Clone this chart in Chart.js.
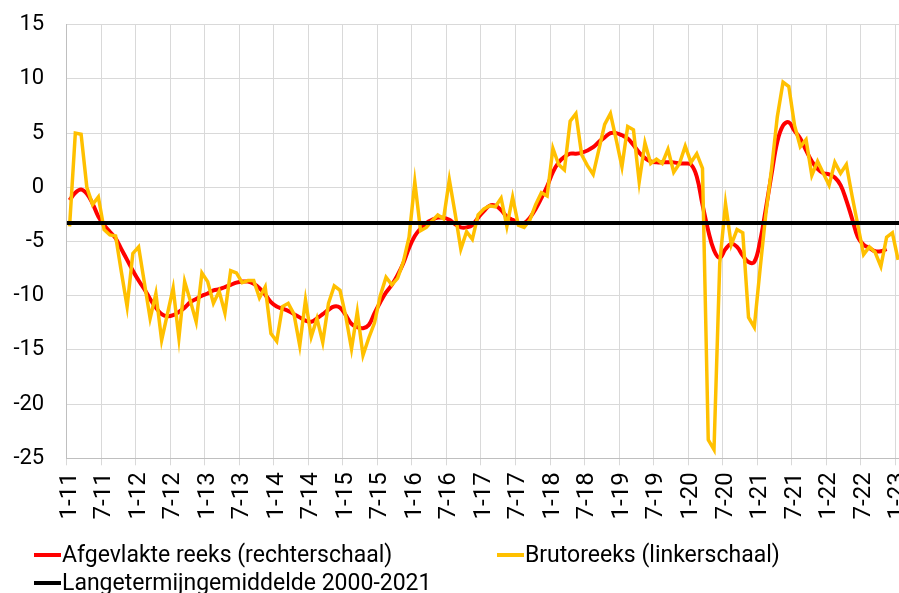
<!DOCTYPE html>
<html><head><meta charset="utf-8">
<script src="https://cdn.jsdelivr.net/npm/chart.js@4"></script>
<style>
html,body{margin:0;padding:0;overflow:hidden;background:#fff;width:899px;height:593px}
#wrap{position:absolute;left:0;top:0;width:901px;height:593px}
.leg{position:absolute;font-family:Roboto,sans-serif;font-size:23px;color:#000;display:flex;align-items:center;white-space:nowrap;line-height:1}
.sw{display:inline-block;width:27px;height:4px;margin-right:1px}
</style></head><body>
<div id="wrap"><canvas id="c" width="901" height="593"></canvas></div>
<div class="leg" style="left:34px;top:543px"><span class="sw" style="background:#ff0000"></span>Afgevlakte reeks (rechterschaal)</div>
<div class="leg" style="left:497px;top:543px"><span class="sw" style="background:#ffc000"></span>Brutoreeks (linkerschaal)</div>
<div class="leg" style="left:34px;top:571px"><span class="sw" style="background:#000000"></span>Langetermijngemiddelde 2000-2021</div>
<script>
// Months Jan 2011 .. Jan 2023
const categories = [
"1-11","2-11","3-11","4-11","5-11","6-11","7-11","8-11","9-11","10-11","11-11","12-11",
"1-12","2-12","3-12","4-12","5-12","6-12","7-12","8-12","9-12","10-12","11-12","12-12",
"1-13","2-13","3-13","4-13","5-13","6-13","7-13","8-13","9-13","10-13","11-13","12-13",
"1-14","2-14","3-14","4-14","5-14","6-14","7-14","8-14","9-14","10-14","11-14","12-14",
"1-15","2-15","3-15","4-15","5-15","6-15","7-15","8-15","9-15","10-15","11-15","12-15",
"1-16","2-16","3-16","4-16","5-16","6-16","7-16","8-16","9-16","10-16","11-16","12-16",
"1-17","2-17","3-17","4-17","5-17","6-17","7-17","8-17","9-17","10-17","11-17","12-17",
"1-18","2-18","3-18","4-18","5-18","6-18","7-18","8-18","9-18","10-18","11-18","12-18",
"1-19","2-19","3-19","4-19","5-19","6-19","7-19","8-19","9-19","10-19","11-19","12-19",
"1-20","2-20","3-20","4-20","5-20","6-20","7-20","8-20","9-20","10-20","11-20","12-20",
"1-21","2-21","3-21","4-21","5-21","6-21","7-21","8-21","9-21","10-21","11-21","12-21",
"1-22","2-22","3-22","4-22","5-22","6-22","7-22","8-22","9-22","10-22","11-22","12-22",
"1-23"];

// Tick labels shown on the x axis (every 6 months)
const shownTickLabels = ["1-11","7-11","1-12","7-12","1-13","7-13","1-14","7-14","1-15","7-15","1-16","7-16","1-17","7-17","1-18","7-18","1-19","7-19","1-20","7-20","1-21","7-21","1-22","7-22","1-23"];

// Afgevlakte reeks (smoothed series), Jan 2011 .. Nov 2022
const smoothed = [
-1.2,-0.5,-0.2,-0.6,-1.5,-2.7,-3.5,-4.1,-4.7,-5.7,-6.7,-7.7,
-8.6,-9.4,-10.3,-11.1,-11.7,-11.9,-11.8,-11.5,-11.1,-10.6,-10.3,-10.0,
-9.8,-9.5,-9.4,-9.2,-9.0,-8.8,-8.7,-8.7,-8.9,-9.3,-9.9,-10.6,
-11.0,-11.2,-11.4,-11.7,-12.0,-12.3,-12.4,-12.1,-11.7,-11.3,-11.0,-11.1,
-11.8,-12.6,-12.9,-13.0,-12.7,-11.6,-10.6,-9.7,-9.0,-8.1,-7.0,-5.6,
-4.5,-3.8,-3.3,-3.0,-2.8,-2.8,-3.0,-3.4,-3.7,-3.7,-3.5,-2.8,
-2.2,-1.7,-1.7,-2.1,-2.7,-3.0,-3.3,-3.3,-2.8,-2.0,-1.0,0.1,
1.4,2.3,2.8,3.1,3.1,3.2,3.4,3.7,4.2,4.6,5.0,5.0,
4.8,4.5,3.9,3.2,2.7,2.4,2.3,2.3,2.3,2.3,2.2,2.2,
2.1,1.0,-1.6,-4.0,-5.8,-6.5,-5.7,-5.2,-5.5,-6.3,-6.9,-6.9,
-5.0,-2.0,1.2,4.2,5.7,6.0,5.2,4.5,3.4,2.4,1.7,1.3,
1.2,0.9,0.2,-1.2,-2.9,-4.6,-5.3,-5.6,-5.9,-5.9,-5.7];

// Brutoreeks (raw series), Jan 2011 .. Jan 2023
const raw = [
-3.6,5.0,4.9,0.0,-1.6,-0.9,-3.9,-4.4,-4.5,-7.8,-11.0,-6.1,
-5.5,-8.8,-12.1,-9.8,-14.1,-11.7,-9.3,-13.9,-8.7,-10.5,-12.4,-7.9,
-8.7,-10.7,-9.6,-11.6,-7.7,-7.9,-8.8,-8.6,-8.6,-10.2,-9.2,-13.5,
-14.2,-11.0,-10.7,-11.7,-14.6,-10.4,-13.8,-12.1,-14.3,-10.7,-9.1,-9.5,
-11.9,-14.9,-11.5,-15.5,-13.9,-12.5,-10.0,-8.3,-9.0,-8.4,-6.9,-4.6,
0.5,-4.0,-3.7,-3.1,-2.55,-2.9,0.7,-2.4,-5.7,-4.1,-4.8,-2.55,
-2.0,-1.7,-1.8,-1.0,-3.6,-0.9,-3.5,-3.7,-3.0,-1.6,-0.5,-0.8,
3.6,2.1,1.6,6.1,6.8,3.0,2.0,1.2,3.5,5.8,6.8,4.4,
1.9,5.6,5.3,0.5,4.1,2.2,2.6,2.2,3.5,1.4,2.2,3.8,
2.3,3.1,1.75,-23.3,-24.2,-7.0,-1.5,-5.3,-3.9,-4.2,-12.0,-12.9,
-7.6,-2.5,1.7,6.5,9.7,9.3,5.7,3.75,4.4,1.1,2.4,1.3,
0.2,2.3,1.3,2.1,-0.8,-3.5,-6.2,-5.5,-6.0,-7.3,-4.6,-4.2,
-6.7];

// Langetermijngemiddelde 2000-2021
const longTermAverage = -3.3;

const yTicks = [15,10,5,0,-5,-10,-15,-20,-25];

const avgLine = {
  id: 'avgLine',
  afterDatasetsDraw(chart) {
    const {ctx, chartArea: a, scales: {y}} = chart;
    const py = y.getPixelForValue(longTermAverage);
    ctx.save();
    ctx.beginPath(); ctx.rect(a.left, a.top, a.width, a.height); ctx.clip();
    ctx.strokeStyle = '#000000'; ctx.lineWidth = 4;
    ctx.beginPath(); ctx.moveTo(a.left, py); ctx.lineTo(a.right, py); ctx.stroke();
    ctx.restore();
  }
};

new Chart(document.getElementById('c'), {
  type: 'line',
  data: {
    labels: categories,
    datasets: [
      {label: 'Afgevlakte reeks (rechterschaal)', data: smoothed, borderColor: '#ff0000', borderWidth: 4,
       pointRadius: 0, tension: 0.4, order: 2, fill: false},
      {label: 'Brutoreeks (linkerschaal)', data: raw, borderColor: '#ffc000', borderWidth: 3.5,
       pointRadius: 0, tension: 0, order: 1, fill: false}
    ]
  },
  options: {
    responsive: false, animation: false, devicePixelRatio: 1,
    layout: {padding: {top: 24.7, left: 0, right: 0, bottom: 0}},
    plugins: {legend: {display: false}, tooltip: {enabled: false}},
    scales: {
      x: {
        offset: true,
        grid: {offset: true, lineWidth: 1, tickLength: 7,
               color: ctx => (shownTickLabels.includes(categories[ctx.index]) ? '#d9d9d9' : 'rgba(0,0,0,0)')},
        border: {color: '#bfbfbf', width: 1},
        ticks: {autoSkip: false, minRotation: 90, maxRotation: 90, padding: 7, color: '#000',
                font: {family: 'Roboto', size: 24},
                callback: (v, i) => (shownTickLabels.includes(categories[i]) ? categories[i] : '')},
        afterFit: s => { s.height = 593 - 458.3; s.paddingLeft = 0; s.paddingRight = 0; }
      },
      y: {
        min: -25, max: 15,
        afterBuildTicks: s => { s.ticks = yTicks.map(v => ({value: v})); },
        grid: {color: '#d9d9d9', lineWidth: 1, drawTicks: false},
        border: {color: '#bfbfbf', width: 1},
        ticks: {padding: 22.5, color: '#000', font: {family: 'Roboto', size: 22}},
        afterFit: s => { s.width = 66.7; s.paddingTop = 0; s.paddingBottom = 0; }
      }
    }
  },
  plugins: [avgLine]
});
</script>
</body></html>
